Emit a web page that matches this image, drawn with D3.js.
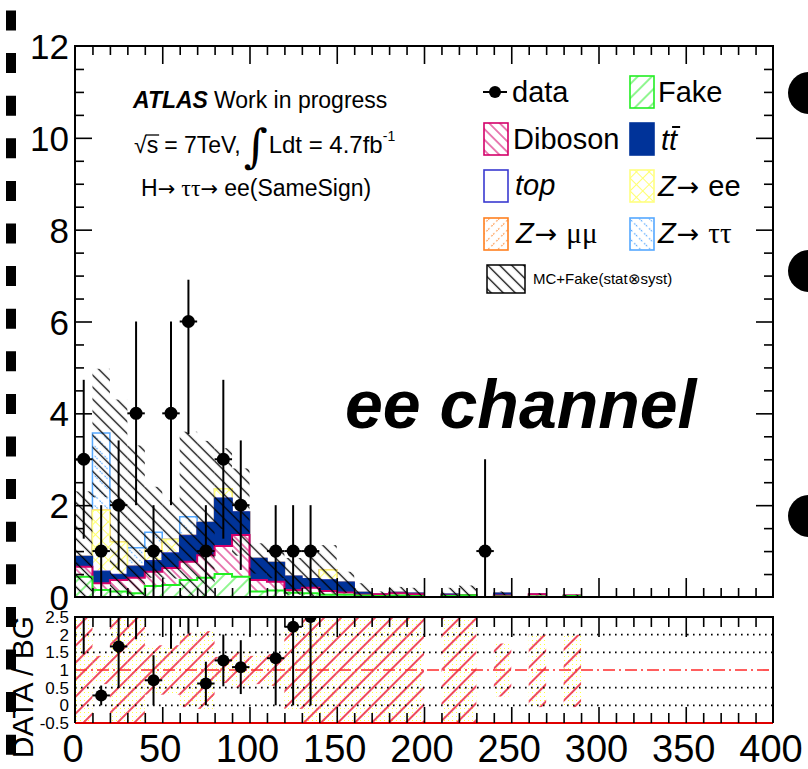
<!DOCTYPE html>
<html><head><meta charset="utf-8">
<script src="https://cdn.jsdelivr.net/npm/d3@7"></script>
<style>
html,body{margin:0;padding:0;background:#fff;}
svg{display:block;font-family:"Liberation Sans",Arial,Helvetica,sans-serif;}
</style></head><body>
<svg id="c" width="808" height="769"></svg>
<script>
// ---- binning: 40 bins of 10 GeV from 0 to 400 ----
const binEdges = d3.range(0, 410, 10);

// observed same-sign ee events per bin
const dataCounts = [3,1,2,4,1,4,6,1,3,2, 0,1,1,1,0,0,0,0,0,0, 0,0,0,1,0,0,0,0,0,0, 0,0,0,0,0,0,0,0,0,0];
const dataErrUp   = [1.73,1,1.41,2,1,2,0.91,1,1.73,1.41, 0,1,1,1,0,0,0,0,0,0, 0,0,0,2,0,0,0,0,0,0, 0,0,0,0,0,0,0,0,0,0];
const dataErrDown = [1.73,1,1.41,2,1,2,2.45,1,1.73,1.41, 0,1,1,1,0,0,0,0,0,0, 0,0,0,1,0,0,0,0,0,0, 0,0,0,0,0,0,0,0,0,0];

// background expectations per bin (stacked bottom to top)
const fake      = [.44,.15,.12,.08,.24,.26,.37,.42,.50,.44, .12,.14,.09,.08,.05,.05,.03,.02,.03,.02, 0,.02,.04,0,.01,0,.01,0,.02,0, 0,0,0,0,0,0,0,0,0,0];
const diboson   = [.22,.15,.25,.34,.31,.37,.40,.49,.61,.91, .25,.19,.06,.12,.08,.05,.02,.04,.05,.04, 0,.01,0,0,.02,0,.05,0,.01,0, 0,0,0,0,0,0,0,0,0,0];
const ttbar     = [.22,.25,.11,.24,.23,.32,.56,.71,1.04,.50, .47,.42,.30,.20,.24,.22,.05,0,.02,.02, 0,.03,0,0,.05,0,0,0,0,0, 0,0,0,0,0,0,0,0,0,0];
const singleTop = [0,.01,.01,.01,.01,.01,.01,0,0,0, 0,0,0,0,0,0,0,0,0,0, 0,0,0,0,0,0,0,0,0,0, 0,0,0,0,0,0,0,0,0,0];
const zee       = [0,1.33,.71,0,.23,.29,0,0,.21,0, 0,0,0,0,.22,0,0,0,0,0, 0,0,0,0,0,0,0,0,0,0, 0,0,0,0,0,0,0,0,0,0];
const zmumu     = [0,0,0,0,0,0,0,0,0,0, 0,0,0,0,0,0,0,0,0,0, 0,0,0,0,0,0,0,0,0,0, 0,0,0,0,0,0,0,0,0,0];
const ztautau   = [0,1.68,0,.40,.39,0,.41,0,0,0, 0,0,0,0,0,0,0,0,0,0, 0,0,0,0,0,0,0,0,0,0, 0,0,0,0,0,0,0,0,0,0];

// upper edge of the MC+Fake (stat (x) syst) uncertainty band
const bandUpper = [2.3,4.97,4.3,3.3,2.4,2.1,3.6,3.4,3.24,2.8, 1.17,1.09,.85,1.0,1.13,.55,.3,.12,.22,.2, 0,.2,.25,0,.12,0,.08,0,.05,0, 0,0,0,0,0,0,0,0,0,0];

// relative uncertainty band shown in the DATA/BG panel (null = no prediction)
const ratioBandLow  = [-0.5,.6,-0.5,-0.5,.3,.3,-0.05,-0.1,.63,.5, .6,.55,-0.1,-0.5,-0.5,-0.5,-0.5,-0.5,-0.5,-0.5, null,-0.5,-0.5,null,.25,null,-0.05,null,-0.05,null, null,null,null,null,null,null,null,null,null,null];
const ratioBandHigh = [2.5,1.4,2.5,2.5,1.7,1.7,2.05,2.1,1.37,1.5, 1.4,1.45,2.1,2.5,2.5,2.5,2.5,2.5,2.5,2.5, null,2.5,2.5,null,1.75,null,2.0,null,2.0,null, null,null,null,null,null,null,null,null,null,null];

const xTickLabels = [0,50,100,150,200,250,300,350,400];
const yTickLabels = [0,2,4,6,8,10,12];
const ratioTickLabels = ["-0.5","0","0.5","1","1.5","2","2.5"];

// ---- scales ----
const x  = d3.scaleLinear().domain([0,400]).range([75,773]);
const y  = d3.scaleLinear().domain([0,12]).range([597,46]);
const yr = d3.scaleLinear().domain([-0.5,2.5]).range([723,617]);

const svg = d3.select("#c");
const defs = svg.append("defs");

// hatch pattern: parallel lines rotated by angle; optional white background
function hatch(id, spacing, angle, color, width, bg, dash, cross) {
  const p = defs.append("pattern").attr("id", id).attr("patternUnits","userSpaceOnUse")
    .attr("width", spacing).attr("height", spacing)
    .attr("patternTransform", `rotate(${angle})`);
  if (bg) p.append("rect").attr("x",-1).attr("y",-1).attr("width", spacing+2).attr("height", spacing+2).attr("fill", bg);
  p.append("line").attr("x1", spacing/2).attr("x2", spacing/2).attr("y1", 0).attr("y2", spacing)
    .attr("stroke", color).attr("stroke-width", width).attr("stroke-dasharray", dash || null);
  if (cross) p.append("line").attr("y1", spacing/2).attr("y2", spacing/2).attr("x1", 0).attr("x2", spacing)
    .attr("stroke", color).attr("stroke-width", width);
}
const C = {
  fake: "#22ee22", diboson: "#d4006a", ttbar: "#003399", top: "#3a3ad0",
  zee: "#ffff80", zmumu: "#ff8020", ztautau: "#55a8ff"
};
hatch("pFake", 10, 45, C.fake, 1, "#fff");
hatch("pDib", 7.5, -45, C.diboson, 1, "#fff");
hatch("pZee", 9, 45, "#ffff70", 1, "#fff", null, true);
hatch("pZmm", 7, 45, C.zmumu, 1.2, "#fff", "1.5 3");
hatch("pZtt", 7, -45, C.ztautau, 1.2, "#fff", "1.5 3");
hatch("pBand", 8.5, -45, "#000", 1.3, null);
hatch("pRatio", 12, 45, "#e8102e", 1.5, null);
{
  // sparse yellow stipple under the ratio hatch
  const p = defs.append("pattern").attr("id","pDots").attr("patternUnits","userSpaceOnUse")
    .attr("width",4).attr("height",4);
  p.append("rect").attr("width",1).attr("height",1).attr("fill","#ffff40");
}
defs.append("clipPath").attr("id","clipMain").append("rect")
  .attr("x", x(0)).attr("y", y(12)).attr("width", x(400)-x(0)).attr("height", y(0)-y(12));
defs.append("clipPath").attr("id","clipRatio").append("rect")
  .attr("x", x(0)).attr("y", yr(2.5)).attr("width", x(400)-x(0)).attr("height", yr(-0.5)-yr(2.5));

// ---- side decorations of the canvas ----
svg.append("line").attr("x1",11).attr("x2",11).attr("y1",10.5).attr("y2",769)
  .attr("stroke","#000").attr("stroke-width",10).attr("stroke-dasharray","20 22.6");
[93,271,516].forEach(cy => svg.append("circle").attr("cx",809).attr("cy",cy).attr("r",21).attr("fill","#000"));

// ---- main panel ----
const main = svg.append("g");
main.append("rect").attr("x",x(0)).attr("y",y(12)).attr("width",x(400)-x(0)).attr("height",y(0)-y(12)).attr("fill","#fff");

// cumulative stack
const layers = [
  {key:"fake", vals:fake, fill:"url(#pFake)", stroke:C.fake, w:2},
  {key:"diboson", vals:diboson, fill:"url(#pDib)", stroke:C.diboson, w:2},
  {key:"ttbar", vals:ttbar, fill:C.ttbar, stroke:C.ttbar, w:1},
  {key:"top", vals:singleTop, fill:"#fff", stroke:C.top, w:1.5},
  {key:"zee", vals:zee, fill:"url(#pZee)", stroke:C.zee, w:1.5},
  {key:"zmumu", vals:zmumu, fill:"url(#pZmm)", stroke:C.zmumu, w:1.5},
  {key:"ztautau", vals:ztautau, fill:"url(#pZtt)", stroke:C.ztautau, w:1.5}
];
let run = d3.range(40).map(() => 0);
layers.forEach(L => { run = run.map((r,i) => r + L.vals[i]); L.cum = run.slice(); });
const total = layers[layers.length-1].cum;

function stepPath(vals, ys, close) {
  let d = `M${x(0)},${ys(0)}`;
  vals.forEach((v,i) => { d += `V${ys(v)}H${x(binEdges[i+1])}`; });
  d += `V${ys(0)}`;
  return close ? d + "Z" : d;
}
const stackG = main.append("g").attr("clip-path","url(#clipMain)");
// drawn from the full sum down, each lower sum painted over the previous
layers.slice().reverse().forEach(L => {
  stackG.append("path").attr("d", stepPath(L.cum, y, true)).attr("fill", L.fill).attr("stroke","none");
  stackG.append("path").attr("d", stepPath(L.cum, y, false)).attr("fill","none")
    .attr("stroke", L.stroke).attr("stroke-width", L.w);
});

// uncertainty band
stackG.selectAll("rect.band").data(d3.range(40).filter(i => bandUpper[i] > total[i]))
  .join("rect").attr("class","band")
  .attr("x", i => x(binEdges[i])).attr("width", i => x(binEdges[i+1]) - x(binEdges[i]))
  .attr("y", i => y(bandUpper[i]))
  .attr("height", i => y(Math.max(0, 2*total[i] - bandUpper[i])) - y(bandUpper[i]))
  .attr("fill","url(#pBand)");

// data points
const pts = d3.range(40).filter(i => dataCounts[i] > 0);
const dataG = main.append("g").attr("clip-path","url(#clipMain)");
pts.forEach(i => {
  const cx = x(binEdges[i] + 5), n = dataCounts[i];
  dataG.append("line").attr("x1",cx).attr("x2",cx).attr("y1",y(n - dataErrDown[i])).attr("y2",y(n + dataErrUp[i]))
    .attr("stroke","#000").attr("stroke-width",2);
  dataG.append("line").attr("x1",x(binEdges[i])).attr("x2",x(binEdges[i+1])).attr("y1",y(n)).attr("y2",y(n))
    .attr("stroke","#000").attr("stroke-width",2);
  dataG.append("circle").attr("cx",cx).attr("cy",y(n)).attr("r",6.5).attr("fill","#000");
});

// frame and ticks
main.append("rect").attr("x",x(0)).attr("y",y(12)).attr("width",x(400)-x(0)).attr("height",y(0)-y(12))
  .attr("fill","none").attr("stroke","#000").attr("stroke-width",2);
function ticks(g, axisFn, scale, vals, size) {
  const a = axisFn(scale).tickValues(vals).tickSize(size).tickFormat("");
  g.call(a); g.select(".domain").remove();
  g.selectAll(".tick line").attr("stroke","#000").attr("stroke-width",1.6);
}
const minorX = d3.range(10, 400, 10).filter(v => v % 50 !== 0);
const majorX = d3.range(50, 400, 50);
const minorY = d3.range(0.5, 12, 0.5).filter(v => v % 2 !== 0);
const majorY = d3.range(2, 12, 2);
ticks(main.append("g").attr("transform",`translate(0,${y(0)})`), d3.axisTop, x, minorX, 9);
ticks(main.append("g").attr("transform",`translate(0,${y(0)})`), d3.axisTop, x, majorX, 19);
ticks(main.append("g").attr("transform",`translate(0,${y(12)})`), d3.axisBottom, x, minorX, 9);
ticks(main.append("g").attr("transform",`translate(0,${y(12)})`), d3.axisBottom, x, majorX, 18);
ticks(main.append("g").attr("transform",`translate(${x(0)},0)`), d3.axisRight, y, minorY, 9);
ticks(main.append("g").attr("transform",`translate(${x(0)},0)`), d3.axisRight, y, majorY, 17);
ticks(main.append("g").attr("transform",`translate(${x(400)},0)`), d3.axisLeft, y, minorY, 9);
ticks(main.append("g").attr("transform",`translate(${x(400)},0)`), d3.axisLeft, y, majorY, 17);

main.selectAll("text.ylab").data(yTickLabels).join("text").attr("class","ylab")
  .attr("x",69).attr("y", v => y(v) + 13).attr("text-anchor","end").attr("font-size",35).text(v => v);

// ---- info text ----
function piece(g, x0, y0, str, attrs) {
  const t = g.append("text").attr("x", x0).attr("y", y0).text(str);
  Object.entries(attrs || {}).forEach(([k,v]) => t.attr(k, v));
  return x0 + t.node().getComputedTextLength();
}
const ARROW = "DejaVu Sans";
const info = svg.append("g").attr("font-size",23);
{
  let px = piece(info, 133, 108, "ATLAS", {"font-weight":"bold","font-style":"italic"});
  piece(info, px + 6, 108, "Work in progress");
  // sqrt(s) = 7TeV, integral L dt = 4.7 fb^-1
  px = piece(info, 134, 153, "\u221A");
  const sx = px;
  px = piece(info, px, 153, "s");
  info.append("line").attr("x1", sx - 1).attr("x2", px + 1).attr("y1", 135).attr("y2", 135).attr("stroke","#000").attr("stroke-width",1.3);
  px = piece(info, px + 6, 153, "= 7TeV,");
  px = piece(info, px + 3, 162, "\u222B", {"font-size":46, "font-family":"DejaVu Serif"});
  px = piece(info, px + 1, 153, "Ldt = 4.7fb", {"font-size":24});
  piece(info, px, 141, "-1", {"font-size":14});
  // H -> tautau -> ee (same sign)
  px = piece(info, 141, 196, "H");
  px = piece(info, px, 196, "\u2192", {"font-family":ARROW, "font-size":21});
  px = piece(info, px + 6, 196, "\u03C4\u03C4", {"font-family":"Liberation Serif", "font-size":24});
  px = piece(info, px, 196, "\u2192", {"font-family":ARROW, "font-size":21});
  piece(info, px + 6, 196, "ee(SameSign)");
}

// ---- channel label ----
svg.append("text").attr("x",345).attr("y",428).attr("font-size",68).attr("font-weight","bold")
  .attr("font-style","italic").text("ee channel");

// ---- legend ----
const leg = svg.append("g").attr("font-size",29);
function box(xb, yb, fill, stroke) {
  leg.append("rect").attr("x",xb).attr("y",yb).attr("width",24).attr("height",32)
    .attr("fill",fill).attr("stroke",stroke).attr("stroke-width",1.6);
}
function zLabel(x0, y0, tail, tailFont) {
  let px = piece(leg, x0, y0, "Z", {"font-style":"italic"});
  px = piece(leg, px + 1, y0, "\u2192", {"font-family":ARROW, "font-size":27});
  piece(leg, px + 9, y0, tail, tailFont ? {"font-family":tailFont} : {});
}
// data
leg.append("line").attr("x1",483).attr("x2",507).attr("y1",92).attr("y2",92).attr("stroke","#000").attr("stroke-width",2);
leg.append("circle").attr("cx",495).attr("cy",92).attr("r",6).attr("fill","#000");
leg.append("text").attr("x",512).attr("y",102).text("data");
box(630, 76, "url(#pFake)", C.fake);
leg.append("text").attr("x",658).attr("y",102).text("Fake");
box(484, 123, "url(#pDib)", C.diboson);
leg.append("text").attr("x",513).attr("y",149).text("Diboson");
box(630, 123, C.ttbar, C.ttbar);
{
  const t1 = leg.append("text").attr("x",661).attr("y",150).attr("font-style","italic").text("t");
  const w1 = t1.node().getComputedTextLength();
  const t2 = leg.append("text").attr("x",661 + w1).attr("y",150).attr("font-style","italic").text("t");
  const w2 = t2.node().getComputedTextLength();
  leg.append("line").attr("x1",661 + w1 + 3).attr("x2",661 + w1 + w2 + 3).attr("y1",127).attr("y2",127)
    .attr("stroke","#000").attr("stroke-width",2);
}
box(484, 170, "#fff", C.top);
leg.append("text").attr("x",515).attr("y",195).attr("font-style","italic").text("top");
box(630, 170, "url(#pZee)", C.zee);
zLabel(658, 196, "ee");
box(484, 218, "url(#pZmm)", C.zmumu);
zLabel(516, 243, "\u03BC\u03BC", "Liberation Serif");
box(630, 218, "url(#pZtt)", C.ztautau);
zLabel(658, 243, "\u03C4\u03C4", "Liberation Serif");
leg.append("rect").attr("x",487).attr("y",265).attr("width",38).attr("height",28)
  .attr("fill","url(#pBand)").attr("stroke","#000").attr("stroke-width",1.5);
leg.append("text").attr("x",533).attr("y",284).attr("font-size",15).text("MC+Fake(stat\u2297syst)");

// ---- ratio panel ----
const rat = svg.append("g");
rat.append("rect").attr("x",x(0)).attr("y",yr(2.5)).attr("width",x(400)-x(0)).attr("height",yr(-0.5)-yr(2.5)).attr("fill","#fff");
const rc = rat.append("g").attr("clip-path","url(#clipRatio)");
const rb = d3.range(40).filter(i => ratioBandLow[i] !== null);
["url(#pDots)","url(#pRatio)"].forEach(f => {
  rc.selectAll(null).data(rb).join("rect")
    .attr("x", i => x(binEdges[i])).attr("width", i => x(binEdges[i+1]) - x(binEdges[i]))
    .attr("y", i => yr(ratioBandHigh[i])).attr("height", i => yr(ratioBandLow[i]) - yr(ratioBandHigh[i]))
    .attr("fill", f);
});
[0, 0.5, 1.5, 2].forEach(v => rc.append("line").attr("x1",x(0)).attr("x2",x(400)).attr("y1",yr(v)).attr("y2",yr(v))
  .attr("stroke","#000").attr("stroke-width",1.6).attr("stroke-dasharray","1.6 4.4"));
rc.append("line").attr("x1",x(0)).attr("x2",x(400)).attr("y1",yr(1)).attr("y2",yr(1))
  .attr("stroke","#ff2a2a").attr("stroke-width",1.6).attr("stroke-dasharray","12 4 2 4");
rat.append("line").attr("x1",x(0)).attr("x2",x(400)).attr("y1",yr(-0.5)).attr("y2",yr(-0.5))
  .attr("stroke","#e00000").attr("stroke-width",2);

d3.range(40).filter(i => dataCounts[i] > 0 && total[i] > 0).forEach(i => {
  const r = dataCounts[i] / total[i];
  const cx = x(binEdges[i] + 5);
  rc.append("line").attr("x1",cx).attr("x2",cx)
    .attr("y1", yr(Math.max(-0.5, r - dataErrDown[i]/total[i]))).attr("y2", yr(r + dataErrUp[i]/total[i]))
    .attr("stroke","#000").attr("stroke-width",2);
  rc.append("line").attr("x1",x(binEdges[i])).attr("x2",x(binEdges[i+1])).attr("y1",yr(r)).attr("y2",yr(r))
    .attr("stroke","#000").attr("stroke-width",2);
  rc.append("circle").attr("cx",cx).attr("cy",yr(r)).attr("r",6).attr("fill","#000");
});

rat.append("path").attr("d",`M${x(0)},${yr(-0.5)}V${yr(2.5)}H${x(400)}V${yr(-0.5)}`)
  .attr("fill","none").attr("stroke","#000").attr("stroke-width",2);
ticks(rat.append("g").attr("transform",`translate(0,${yr(2.5)})`), d3.axisBottom, x, minorX, 10);
ticks(rat.append("g").attr("transform",`translate(0,${yr(2.5)})`), d3.axisBottom, x, majorX, 20);
ticks(rat.append("g").attr("transform",`translate(0,${yr(-0.5)})`), d3.axisTop, x, minorX, 10);
ticks(rat.append("g").attr("transform",`translate(0,${yr(-0.5)})`), d3.axisTop, x, majorX, 16);

// ratio axis title and labels
svg.append("text").attr("transform",`translate(33,687) rotate(-90)`).attr("text-anchor","middle")
  .attr("font-size",30).text("DATA / BG");
svg.selectAll("text.rlab").data(ratioTickLabels).join("text").attr("class","rlab")
  .attr("x",69).attr("y", s => yr(+s) + 6).attr("text-anchor","end").attr("font-size",17).text(s => s);

// x labels
svg.selectAll("text.xlab").data(xTickLabels).join("text").attr("class","xlab")
  .attr("x", v => x(v) - 2).attr("y",762).attr("text-anchor","middle").attr("font-size",38).text(v => v);
</script>
</body></html>
